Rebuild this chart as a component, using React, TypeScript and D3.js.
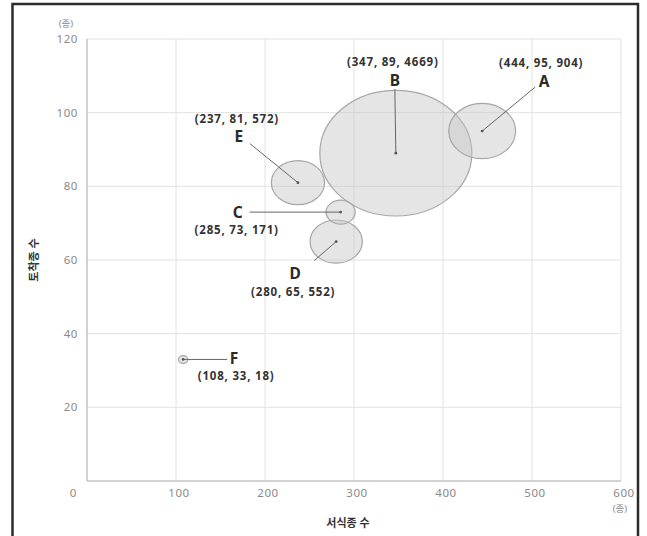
import React from "react";
import * as d3 from "d3";

const names = ["A", "B", "C", "D", "E", "F"];
const habitat = [444, 347, 285, 280, 237, 108];
const native = [95, 89, 73, 65, 81, 33];
const sizes = [904, 4669, 171, 552, 572, 18];
const xTicks = [100, 200, 300, 400, 500, 600];
const yTicks = [20, 40, 60, 80, 100, 120];

// annotation layout (offsets in px relative to each bubble centre)
const labelOffsets: Record<string, { lx: number; ly: number; cy: number; ex: number; ey: number; cdx: number }> = {
  A: { lx: 62, ly: -50, cy: -18, cdx: -3, ex: 53, ey: -44 },
  B: { lx: -1, ly: -73, cy: -18, cdx: -2, ex: -1, ey: -64 },
  C: { lx: -103, ly: 0, cy: 18, cdx: -1, ex: -91, ey: 0 },
  D: { lx: -41, ly: 32, cy: 18, cdx: -2, ex: -22, ey: 19 },
  E: { lx: -59, ly: -46, cy: -18, cdx: -2, ex: -48, ey: -39 },
  F: { lx: 51, ly: -1, cy: 18, cdx: 2, ex: 44, ey: 0 },
};

const W = 647;
const H = 536;
const FONT = "'Noto Sans', 'Noto Sans CJK KR', sans-serif";

export default function App() {
  const x = d3.scaleLinear().domain([0, 600]).range([87, 621]);
  const y = d3.scaleLinear().domain([0, 120]).range([481, 39]);
  const r = d3.scaleSqrt().domain([0, 4669]).range([0, 62.8]);
  const stretch = 1.21;

  const data = names.map((n, i) => ({ n, x: habitat[i], y: native[i], s: sizes[i] }));
  const order = [...data].sort((a, b) => b.s - a.s);

  return (
    <svg width={W} height={H} style={{ position: "absolute", left: 0, top: 0, background: "#fff" }} fontFamily={FONT}>
      <rect x={0} y={0} width={W} height={H} fill="#fff" />
      {/* grid */}
      {xTicks.map((t) => (
        <line key={"gx" + t} x1={x(t)} x2={x(t)} y1={y(120)} y2={y(0)} stroke="#e2e2e2" strokeWidth={1} />
      ))}
      {yTicks.map((t) => (
        <line key={"gy" + t} x1={x(0)} x2={x(600)} y1={y(t)} y2={y(t)} stroke="#e2e2e2" strokeWidth={1} />
      ))}
      {/* axes */}
      <line x1={x(0)} x2={x(0)} y1={y(120)} y2={y(0)} stroke="#c4c4c4" strokeWidth={1.5} />
      <line x1={x(0)} x2={x(600)} y1={y(0)} y2={y(0)} stroke="#c4c4c4" strokeWidth={1.5} />
      {/* tick labels */}
      {yTicks.map((t) => (
        <text key={"ty" + t} x={78} y={y(t)} dy="0.35em" textAnchor="end" fontSize={11.5} letterSpacing={0.6} fill="#8a8a8a">
          {t}
        </text>
      ))}
      {xTicks.map((t) => (
        <text key={"tx" + t} x={x(t) + 3} y={493} dy="0.35em" textAnchor="middle" fontSize={11.5} letterSpacing={0.6} fill="#8a8a8a">
          {t}
        </text>
      ))}
      <text x={73} y={493} dy="0.35em" textAnchor="middle" fontSize={11.5} fill="#8a8a8a">0</text>
      <text x={66} y={24} dy="0.35em" textAnchor="middle" fontSize={9.5} fill="#8a8a8a">(종)</text>
      <text x={620} y={509} dy="0.35em" textAnchor="middle" fontSize={9.5} fill="#8a8a8a">(종)</text>
      {/* axis titles */}
      <text x={348} y={523} dy="0.35em" textAnchor="middle" fontSize={11} fontWeight={700} fill="#333">서식종 수</text>
      <text transform="translate(34,260) rotate(-90)" dy="0.35em" textAnchor="middle" fontSize={11} fontWeight={700} fill="#333">토착종 수</text>
      {/* bubbles */}
      {order.map((d) => (
        <ellipse
          key={"b" + d.n}
          cx={x(d.x)}
          cy={y(d.y)}
          rx={r(d.s) * stretch}
          ry={r(d.s)}
          fill="#c6c6c6"
          fillOpacity={0.45}
          stroke="#a6a6a6"
          strokeWidth={1.2}
        />
      ))}
      {/* annotations */}
      {data.map((d) => {
        const o = labelOffsets[d.n];
        const cx = x(d.x);
        const cy = y(d.y);
        return (
          <g key={"a" + d.n}>
            <line x1={cx} y1={cy} x2={cx + o.ex} y2={cy + o.ey} stroke="#666" strokeWidth={1} />
            <circle cx={cx} cy={cy} r={1.4} fill="#555" />
            <text x={cx + o.lx} y={cy + o.ly} dy="0.36em" textAnchor="middle" fontSize={15.5} fontWeight={700} fill="#2a2a2a">
              {d.n}
            </text>
            <text x={cx + o.lx + o.cdx} y={cy + o.ly + o.cy} dy="0.35em" textAnchor="middle" fontSize={11.5} fontWeight={700} letterSpacing={0.8} fill="#333">
              {`(${d.x}, ${d.y}, ${d.s})`}
            </text>
          </g>
        );
      })}
      {/* frame */}
      <rect x={12.5} y={4} width={625.5} height={560} fill="none" stroke="#2b2b2b" strokeWidth={2.5} />
    </svg>
  );
}
